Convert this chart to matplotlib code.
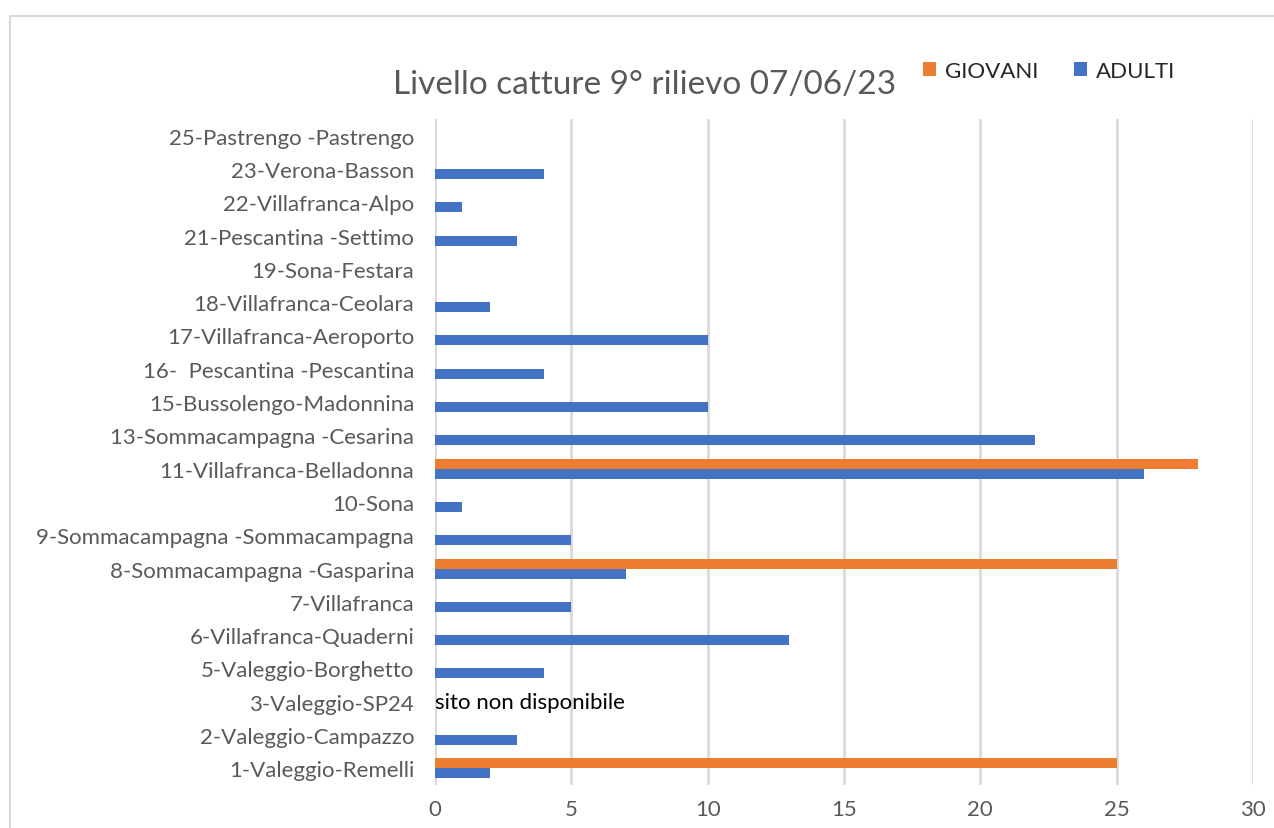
import matplotlib.pyplot as plt
import numpy as np
from matplotlib.patches import Rectangle

# categories listed bottom to top
categories = [
    "1-Valeggio-Remelli", "2-Valeggio-Campazzo", "3-Valeggio-SP24",
    "5-Valeggio-Borghetto", "6-Villafranca-Quaderni", "7-Villafranca",
    "8-Sommacampagna -Gasparina", "9-Sommacampagna -Sommacampagna", "10-Sona",
    "11-Villafranca-Belladonna", "13-Sommacampagna -Cesarina",
    "15-Bussolengo-Madonnina", "16-  Pescantina -Pescantina",
    "17-Villafranca-Aeroporto", "18-Villafranca-Ceolara", "19-Sona-Festara",
    "21-Pescantina -Settimo", "22-Villafranca-Alpo", "23-Verona-Basson",
    "25-Pastrengo -Pastrengo",
]
adulti = [2, 3, 0, 4, 13, 5, 7, 5, 1, 26, 22, 10, 4, 10, 2, 0, 3, 1, 4, 0]
giovani = [25, 0, 0, 0, 0, 0, 25, 0, 0, 28, 0, 0, 0, 0, 0, 0, 0, 0, 0, 0]
x_ticks = [0, 5, 10, 15, 20, 25, 30]

plt.rcParams['font.family'] = ['Lato', 'DejaVu Sans']
gray = '#595959'

fig = plt.figure(figsize=(12.74, 8.29), dpi=100)
fig.patches.append(Rectangle((10 / 1274, -0.1), 1.2, 1 - 17 / 829 + 0.1,
                             transform=fig.transFigure, fill=False,
                             edgecolor='#d9d9d9', linewidth=1.5))

ax = fig.add_axes([435 / 1274, 1 - 786 / 829, (1253 - 435) / 1274, (786 - 120) / 829])
y = np.arange(len(categories))
h = 0.3
ax.barh(y + h / 2, giovani, height=h, color='#ED7D31', label='GIOVANI', zorder=3)
ax.barh(y - h / 2, adulti, height=h, color='#4472C4', label='ADULTI', zorder=3)

ax.set_xlim(0, 30)
ax.set_ylim(-0.5, len(categories) - 0.5)
ax.set_xticks(x_ticks)
ax.set_yticks(y)
ax.set_yticklabels(categories)
ax.tick_params(axis='both', length=0, labelsize=16, colors=gray)
ax.tick_params(axis='x', pad=10)
ax.tick_params(axis='y', pad=15)
ax.grid(axis='x', color='#d9d9d9', linewidth=2, zorder=0)
for s in ax.spines.values():
    s.set_visible(False)

ax.text(0, 2, "sito non disponibile", fontsize=16, color='black',
        ha='left', va='center')

fig.text(645 / 1274, 1 - 85 / 829, "Livello catture 9° rilievo 07/06/23",
         fontsize=24, color=gray, ha='center', va='center')
fig.legend(loc='center left', bbox_to_anchor=(903 / 1274, 1 - 72 / 829), ncol=2,
           frameon=False, fontsize=16, handlelength=0.6, handleheight=0.6,
           columnspacing=1.6, handletextpad=0.4, labelcolor='#262626')

fig.savefig('out.png', dpi=100)
